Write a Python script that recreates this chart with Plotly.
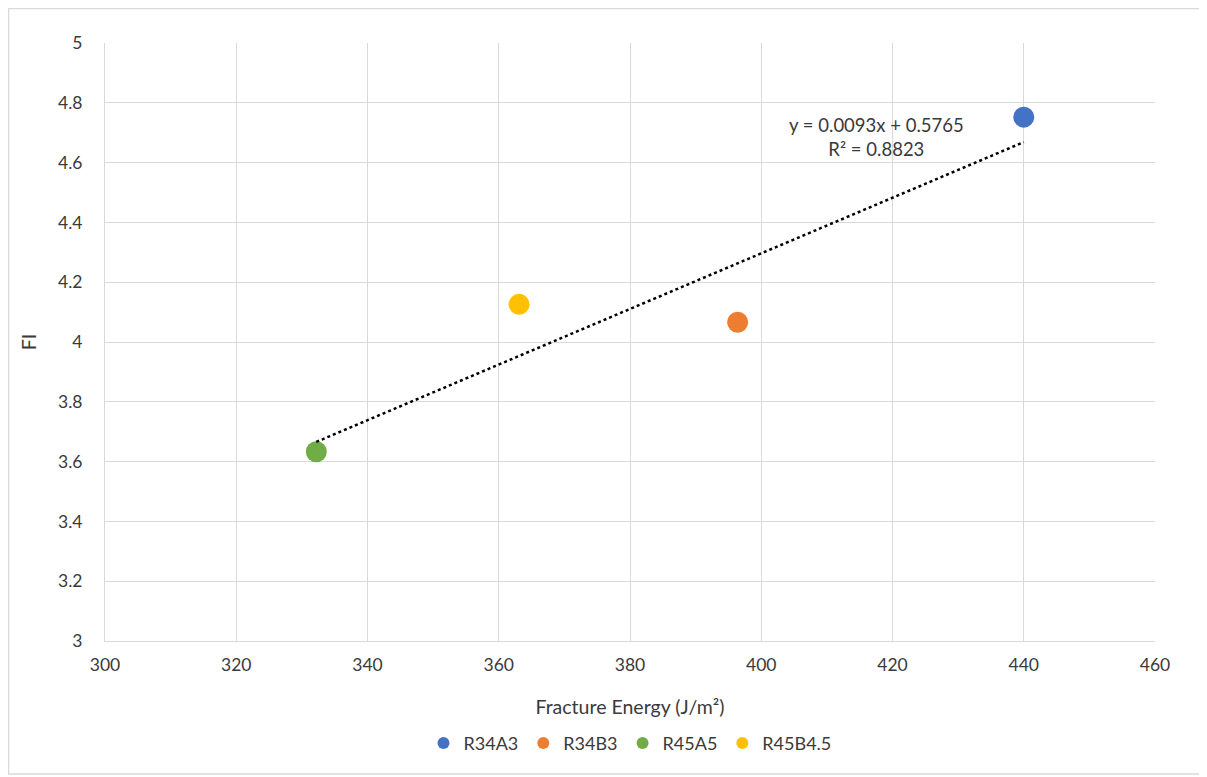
import plotly.graph_objects as go

series_names = ["R34A3", "R34B3", "R45A5", "R45B4.5"]
fracture_energy = [440.0, 396.4, 332.2, 363.1]
fi_values = [4.752, 4.066, 3.633, 4.126]
colors = ["#4472C4", "#ED7D31", "#70AD47", "#FFC000"]

trend_slope = 0.0093
trend_intercept = 0.5765
trend_label = "y = 0.0093x + 0.5765<br>R² = 0.8823"

x_ticks = [300, 320, 340, 360, 380, 400, 420, 440, 460]
y_ticks = [3, 3.2, 3.4, 3.6, 3.8, 4, 4.2, 4.4, 4.6, 4.8, 5]

FONT = "Lato, Open Sans, sans-serif"
TXT = "#3a3a3a"

fig = go.Figure()
for name, xv, yv, c in zip(series_names, fracture_energy, fi_values, colors):
    fig.add_trace(go.Scatter(x=[xv], y=[yv], mode="markers", name=name,
                             marker=dict(color=c, size=21, line=dict(width=0))))

x0, x1 = min(fracture_energy), max(fracture_energy)
fig.add_trace(go.Scatter(x=[x0, x1],
                         y=[trend_slope * x0 + trend_intercept, trend_slope * x1 + trend_intercept],
                         mode="lines", line=dict(color="black", width=2.5, dash="dot"),
                         showlegend=False, hoverinfo="skip"))

fig.add_annotation(x=417.6, y=4.685, xref="x", yref="y", text=trend_label, showarrow=False,
                   font=dict(family=FONT, size=18.5, color=TXT), align="center")

# page has an 8px body margin; margins compensate
l, r, t, b = 97, 60, 35, 144
pw, ph = 1050, 598
fig.add_shape(type="rect", xref="paper", yref="paper",
              x0=(0.5 - l) / pw, x1=(1195 - l) / pw,
              y0=(777 - b - 766) / ph, y1=(777 - b - 0.5) / ph,
              line=dict(color="#d9d9d9", width=1.5), fillcolor="rgba(0,0,0,0)", layer="below")

fig.update_layout(
    width=1207, height=777,
    margin=dict(l=l, r=r, t=t, b=b, autoexpand=False),
    paper_bgcolor="white", plot_bgcolor="white",
    font=dict(family=FONT, size=17, color=TXT),
    xaxis=dict(range=[300, 460], tickvals=x_ticks, showgrid=True, gridcolor="#d9d9d9",
               gridwidth=1.3, zeroline=False, showline=True, linecolor="#d9d9d9", mirror=False,
               ticks="outside", ticklen=8, tickcolor="rgba(0,0,0,0)",
               tickfont=dict(size=17.5, color=TXT),
               title=dict(text="Fracture Energy (J/m²)", font=dict(size=19.5, color=TXT), standoff=26)),
    yaxis=dict(range=[3, 5], tickvals=y_ticks, showgrid=True, gridcolor="#d9d9d9",
               gridwidth=1.3, zeroline=False, showline=True, linecolor="#d9d9d9",
               ticks="outside", ticklen=18, tickcolor="rgba(0,0,0,0)",
               tickfont=dict(size=17.5, color=TXT),
               title=dict(text="FI", font=dict(size=19.5, color=TXT), standoff=16)),
    legend=dict(orientation="h", x=0.5, xanchor="center", y=-0.171, yanchor="middle",
                font=dict(size=18, color=TXT), itemsizing="constant", itemwidth=30,
                traceorder="normal", tracegroupgap=0),
    showlegend=True,
)

fig.write_html("out.html")
